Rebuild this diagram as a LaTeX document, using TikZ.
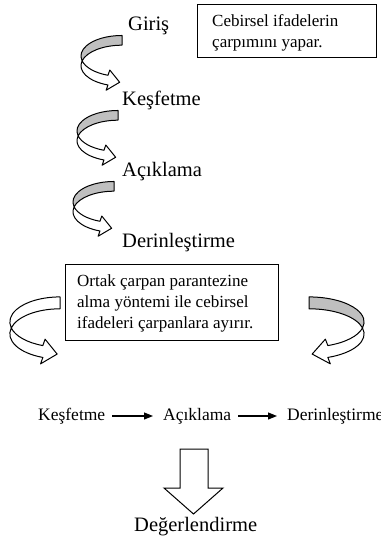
\documentclass[tikz,border=0pt]{standalone}
\usepackage{fontspec}
\setmainfont{Liberation Serif}
\usetikzlibrary{arrows.meta}

\tikzset{
  x=1pt, y=1pt,
  stage/.style={anchor=base west, inner sep=0pt, font=\fontsize{20.5}{24}\selectfont},
  flowlabel/.style={inner sep=0pt, text height=12pt, text depth=4pt,
    font=\fontsize{17.5}{21}\selectfont},
  notebox/.style={draw, line width=0.9pt, anchor=north west, inner sep=0pt},
  noteline/.style={anchor=base west, inner sep=0pt, font=\fontsize{17}{21}\selectfont},
  flowarrow/.style={-{Triangle[length=9pt,width=7pt]}, line width=1.1pt,
    shorten <=7pt, shorten >=10pt},
  % ribbon arrow bending round on its left and ending in a head that points right
  pics/ribbon/.style={code={
    \path[draw, fill=#1, line width=1pt, line join=round]
      (0,19) arc[start angle=90, end angle=193.7, x radius=38, y radius=19]
      arc[start angle=166.3, end angle=90, x radius=38, y radius=19] -- cycle;
    \path[draw, fill=white, line width=1pt, line join=round]
      (-36.92,-4.5) arc[start angle=193.7, end angle=250, x radius=38, y radius=19]
      -- (-11.3,-13.0) -- (-2.18,-24.3) -- (-14.7,-31.7) -- (-13.0,-26.85)
      arc[start angle=250, end angle=166.3, x radius=38, y radius=19] -- cycle;
  }},
}

\begin{document}
\begin{tikzpicture}
\useasboundingbox (0,0) rectangle (380,-548);

% stages down the left
\node[stage] (giris) at (128,-31) {Giriş};
\node[stage] (kesfet) at (122,-106) {Keşfetme};
\node[stage] (acikla) at (122,-176) {Açıklama};
\node[stage] (derin) at (122,-247) {Derinleştirme};

\pic[scale=1.08] at (122,-56) {ribbon=black!25};
\pic[scale=1.08] at (118,-131) {ribbon=black!25};
\pic[scale=1.08] at (114,-202) {ribbon=black!25};

% first note
\node[notebox, minimum width=179pt, minimum height=53pt] (note1) at (197,-4) {};
\node[noteline] (note1a) at (212,-27) {Cebirsel ifadelerin};
\node[noteline] (note1b) at (212,-48) {çarpımını yapar.};

% second note
\node[notebox, minimum width=213pt, minimum height=76pt] (note2) at (65,-264) {};
\node[noteline] (note2a) at (77,-286) {Ortak çarpan parantezine};
\node[noteline] (note2b) at (77,-307) {alma yöntemi ile cebirsel};
\node[noteline] (note2c) at (77,-328) {ifadeleri çarpanlara ayırır.};

\pic[scale=1.32] at (60,-322) {ribbon=white};
\pic[xscale=-1.45, yscale=1.32] at (309,-322) {ribbon=black!25};

% flow along the row
\node[flowlabel, anchor=base west] (k2) at (38,-420) {Keşfetme};
\node[flowlabel, anchor=base west] (a2) at (163,-420) {Açıklama};
\node[flowlabel, anchor=base west] (d2) at (287,-420) {Derinleştirme};
\draw[flowarrow] (k2.east) -- (a2.west);
\draw[flowarrow] (a2.east) -- (d2.west);

% block arrow down to the evaluation
\draw[line width=1pt, line join=miter, fill=white]
  (180,-449) -- (208,-449) -- (208,-488) -- (223,-488) -- (193.5,-514)
  -- (164,-488) -- (180,-488) -- cycle;
\node[stage] (deger) at (134,-531) {Değerlendirme};
\end{tikzpicture}
\end{document}
